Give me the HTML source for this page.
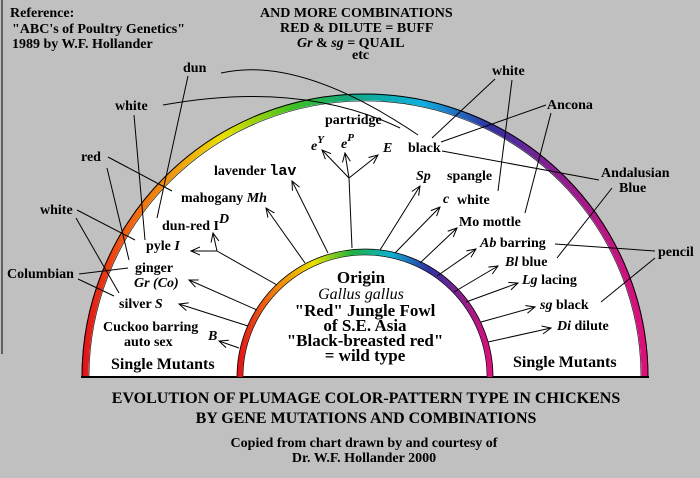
<!DOCTYPE html>
<html><head><meta charset="utf-8"><style>
html,body{margin:0;padding:0;background:#c0c0c0;}
svg{display:block;}
text{font-family:"Liberation Serif",serif;font-weight:bold;font-size:14px;fill:#000;}
.i{font-style:italic;}
.m{font-family:"Liberation Mono",monospace;}
</style></head><body>
<svg width="700" height="478" viewBox="0 0 700 478" xmlns="http://www.w3.org/2000/svg">
<defs>
<linearGradient id="rb" x1="82" y1="0" x2="648" y2="0" gradientUnits="userSpaceOnUse">
<stop offset="0" stop-color="#e0101a"/><stop offset="0.08" stop-color="#f06010"/>
<stop offset="0.17" stop-color="#f0a010"/><stop offset="0.25" stop-color="#e8e000"/>
<stop offset="0.37" stop-color="#40c020"/><stop offset="0.47" stop-color="#10a880"/>
<stop offset="0.6" stop-color="#10b0e0"/><stop offset="0.72" stop-color="#3030a0"/>
<stop offset="0.82" stop-color="#802090"/><stop offset="1" stop-color="#e0107a"/>
</linearGradient>
<linearGradient id="rb2" x1="237" y1="0" x2="493" y2="0" gradientUnits="userSpaceOnUse">
<stop offset="0" stop-color="#e0101a"/><stop offset="0.15" stop-color="#f08010"/>
<stop offset="0.3" stop-color="#e8e000"/><stop offset="0.45" stop-color="#20b040"/>
<stop offset="0.6" stop-color="#10b0d0"/><stop offset="0.75" stop-color="#3030a0"/>
<stop offset="1" stop-color="#e0107a"/>
</linearGradient>
<marker id="a" markerWidth="10" markerHeight="10" refX="9" refY="5" orient="auto" markerUnits="userSpaceOnUse">
<path d="M0,1 L9,5 L0,9" fill="none" stroke="#000" stroke-width="1"/></marker>
</defs>
<line x1="2" y1="0" x2="2" y2="354" stroke="#000" stroke-width="1"/>
<path d="M82,377 A283,283 0 0 1 648,377 Z" fill="#fff"/>
<path d="M85,377 A280,280 0 0 1 645,377" fill="none" stroke="url(#rb)" stroke-width="7"/>
<path d="M82,377 A283,283 0 0 1 648,377" fill="none" stroke="#000" stroke-width="1"/>
<path d="M89,377 A276,276 0 0 1 641,377" fill="none" stroke="#000" stroke-width="0.6"/>
<line x1="81" y1="377" x2="649" y2="377" stroke="#000" stroke-width="2"/>
<path d="M240,377 A125,125 0 0 1 490,377" fill="none" stroke="url(#rb2)" stroke-width="6"/>
<path d="M237,377 A128,128 0 0 1 493,377" fill="none" stroke="#000" stroke-width="0.8"/>
<path d="M243,377 A122,122 0 0 1 487,377" fill="none" stroke="#000" stroke-width="0.6"/>
<g stroke="#000" stroke-width="1" fill="none">
<path d="M221,73 Q300,55 418,135"/>
<path d="M163,105 Q300,80 400,128"/>
<line x1="188" y1="76" x2="157" y2="218"/>
<line x1="134" y1="115" x2="145" y2="240"/>
<line x1="108" y1="157" x2="172" y2="191"/>
<line x1="107" y1="168" x2="129" y2="260"/>
<line x1="77" y1="210" x2="135" y2="240"/>
<line x1="76" y1="218" x2="119" y2="293"/>
<line x1="79" y1="274" x2="128" y2="268"/>
<line x1="78" y1="279" x2="114" y2="296"/>
<line x1="495" y1="79" x2="432" y2="138"/>
<line x1="512" y1="80" x2="498" y2="191"/>
<line x1="546" y1="105" x2="441" y2="142"/>
<line x1="551" y1="113" x2="525" y2="213"/>
<line x1="599" y1="180" x2="442" y2="151"/>
<line x1="612" y1="188" x2="557" y2="258"/>
<line x1="655" y1="251" x2="555" y2="244"/>
<line x1="655" y1="258" x2="601" y2="302"/>
<g marker-end="url(#a)">
<line x1="328" y1="253" x2="292" y2="181"/>
<line x1="305" y1="263" x2="266" y2="208"/>
<line x1="349" y1="178" x2="322" y2="150"/>
<line x1="349" y1="178" x2="345" y2="153"/>
<line x1="349" y1="178" x2="378" y2="155"/>
<line x1="380" y1="250" x2="420" y2="186"/>
<line x1="395" y1="253" x2="440" y2="207"/>
<line x1="420" y1="263" x2="457" y2="228"/>
<line x1="437" y1="276" x2="476" y2="249"/>
<line x1="454" y1="292" x2="498" y2="266"/>
<line x1="466" y1="302" x2="518" y2="283"/>
<line x1="481" y1="322" x2="535" y2="307"/>
<line x1="488" y1="342" x2="551" y2="328"/>
<line x1="217" y1="251" x2="191" y2="251"/>
<line x1="217" y1="251" x2="213" y2="233"/>
<line x1="257" y1="310" x2="189" y2="280"/>
<line x1="248" y1="326" x2="179" y2="304"/>
<line x1="239" y1="348" x2="219" y2="341"/>
</g>
<line x1="349" y1="178" x2="352" y2="248"/>
<line x1="217" y1="251" x2="277" y2="285"/>
</g>
<text x="10" y="17">Reference:</text>
<text x="12" y="33">"ABC's of Poultry Genetics"</text>
<text x="12" y="48">1989 by W.F.  Hollander</text>
<text x="260" y="17">AND MORE COMBINATIONS</text>
<text x="280" y="32">RED &amp; DILUTE = BUFF</text>
<text x="297" y="47"><tspan class="i">Gr</tspan>  &amp;  <tspan class="i">sg</tspan> = QUAIL</text>
<text x="352" y="59">etc</text>
<text x="183" y="72">dun</text>
<text x="115" y="110">white</text>
<text x="81" y="161">red</text>
<text x="40" y="214">white</text>
<text x="7" y="278">Columbian</text>
<text x="492" y="75">white</text>
<text x="547" y="109">Ancona</text>
<text x="601" y="177">Andalusian</text>
<text x="619" y="192">Blue</text>
<text x="658" y="256">pencil</text>
<text x="325" y="124">partridge</text>
<text x="311" y="150" class="i">e<tspan dy="-7" style="font-size:11px">Y</tspan></text>
<text x="341" y="148" class="i">e<tspan dy="-7" style="font-size:11px">P</tspan></text>
<text x="383" y="152" class="i">E</text>
<text x="408" y="152">black</text>
<text x="214" y="175">lavender <tspan class="m" style="font-size:15px">lav</tspan></text>
<text x="181" y="202">mahogany <tspan class="i">Mh</tspan></text>
<text x="162" y="230">dun-red I<tspan class="i" dy="-7">D</tspan></text>
<text x="416" y="180" class="i">Sp</text>
<text x="447" y="180">spangle</text>
<text x="443" y="203" class="i">c</text>
<text x="457" y="204">white</text>
<text x="459" y="226">Mo mottle</text>
<text x="146" y="250">pyle <tspan class="i">I</tspan></text>
<text x="135" y="272">ginger</text>
<text x="134" y="287" class="i">Gr (Co)</text>
<text x="119" y="308">silver  <tspan class="i">S</tspan></text>
<text x="103" y="331">Cuckoo barring</text>
<text x="124" y="346">auto sex</text>
<text x="208" y="340" class="i">B</text>
<text x="111" y="369" style="font-size:16px">Single Mutants</text>
<text x="480" y="247"><tspan class="i">Ab</tspan> barring</text>
<text x="505" y="266"><tspan class="i">Bl</tspan> blue</text>
<text x="522" y="284"><tspan class="i">Lg</tspan> lacing</text>
<text x="540" y="309"><tspan class="i">sg</tspan>  black</text>
<text x="557" y="330"><tspan class="i">Di</tspan> dilute</text>
<text x="513" y="367" style="font-size:16px">Single Mutants</text>
<g text-anchor="middle">
<text x="361" y="283" style="font-size:17px">Origin</text>
<text x="361" y="299" style="font-size:16px;font-weight:normal;font-style:italic">Gallus gallus</text>
<text x="365" y="316" style="font-size:17px">"Red" Jungle  Fowl</text>
<text x="365" y="331" style="font-size:17px">of S.E. Asia</text>
<text x="365" y="346" style="font-size:17px">"Black-breasted red"</text>
<text x="365" y="361" style="font-size:17px">= wild type</text>
<text x="366" y="403" style="font-size:16px">EVOLUTION OF PLUMAGE COLOR-PATTERN TYPE IN CHICKENS</text>
<text x="366" y="423" style="font-size:16px">BY GENE MUTATIONS AND COMBINATIONS</text>
<text x="364" y="447" style="font-size:14px">Copied from chart drawn  by and courtesy of</text>
<text x="364" y="462" style="font-size:14px">Dr. W.F. Hollander  2000</text>
</g>
</svg>
</body></html>
